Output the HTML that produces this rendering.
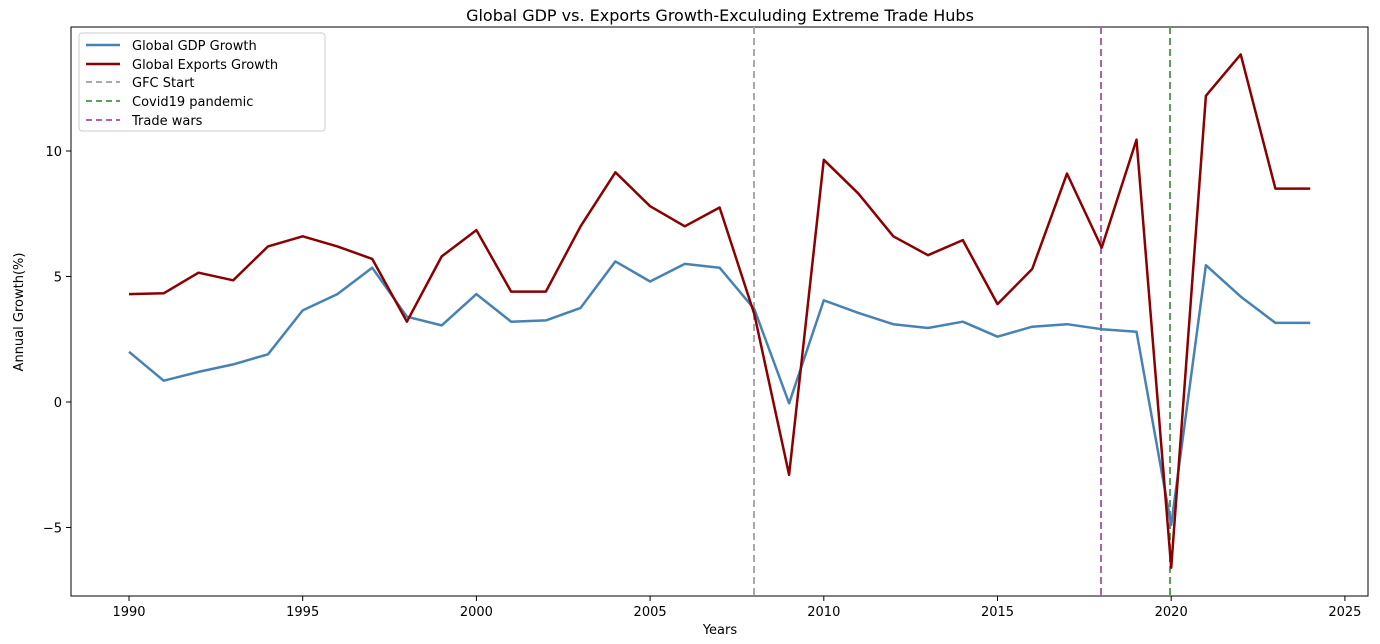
<!DOCTYPE html>
<html><head><meta charset="utf-8"><style>
html,body{margin:0;padding:0;background:#fff;}
svg{display:block;font-family:"DejaVu Sans","Liberation Sans",sans-serif;}
</style></head><body>
<svg id="c" width="1380" height="644" viewBox="0 0 1380 644" xmlns="http://www.w3.org/2000/svg">
<rect width="1380" height="644" fill="#fff"/>
<text x="720" y="21" font-size="16" text-anchor="middle" fill="#000">Global GDP vs. Exports Growth-Exculuding Extreme Trade Hubs</text>
<rect x="71" y="27" width="1297" height="569" fill="none" stroke="#000" stroke-width="1"/>
<g id="ticks" font-size="13" fill="#000"></g>
<text x="720" y="634" font-size="13" text-anchor="middle">Years</text>
<text transform="translate(23,312) rotate(-90)" font-size="13" text-anchor="middle">Annual Growth(%)</text>
<line x1="754" y1="27" x2="754" y2="596" stroke="#aaaaaa" stroke-width="2" stroke-dasharray="7,4"/>
<line x1="1101" y1="27" x2="1101" y2="596" stroke="#b060b0" stroke-width="2" stroke-dasharray="7,4"/>
<line x1="1170" y1="27" x2="1170" y2="596" stroke="#5aa05a" stroke-width="2" stroke-dasharray="7,4"/>
<path id="gdp" fill="none" stroke="#4682b4" stroke-width="2.5" stroke-linejoin="round"/>
<path id="exp" fill="none" stroke="#8b0000" stroke-width="2.5" stroke-linejoin="round"/>
<g font-size="13">
<rect x="79" y="33" width="246" height="98" fill="#fff" stroke="#ccc" rx="3"/>
<line x1="86" y1="45" x2="120" y2="45" stroke="#4682b4" stroke-width="2.5"/><text x="132" y="50">Global GDP Growth</text>
<line x1="86" y1="64" x2="120" y2="64" stroke="#8b0000" stroke-width="2.5"/><text x="132" y="69">Global Exports Growth</text>
<line x1="86" y1="82" x2="120" y2="82" stroke="#aaaaaa" stroke-width="2" stroke-dasharray="6,4"/><text x="132" y="87">GFC Start</text>
<line x1="86" y1="101" x2="120" y2="101" stroke="#5aa05a" stroke-width="2" stroke-dasharray="6,4"/><text x="132" y="106">Covid19 pandemic</text>
<line x1="86" y1="120" x2="120" y2="120" stroke="#b060b0" stroke-width="2" stroke-dasharray="6,4"/><text x="132" y="125">Trade wars</text>
</g>
</svg>
<script>
var X=function(y){return 129+(y-1990)*34.74;};
var Y=function(v){return 402-25.1*v;};
var g=[2.0,0.85,1.2,1.5,1.9,3.65,4.3,5.35,3.4,3.05,4.3,3.2,3.25,3.75,5.6,4.8,5.5,5.35,3.7,-0.05,4.05,3.55,3.1,2.95,3.2,2.6,3.0,3.1,2.9,2.8,-4.9,5.45,4.2,3.15,3.15];
var e=[4.3,4.33,5.15,4.85,6.2,6.6,6.2,5.7,3.2,5.8,6.85,4.4,4.4,7.0,9.15,7.8,7.0,7.75,3.5,-2.9,9.65,8.3,6.6,5.85,6.45,3.9,5.3,9.1,6.15,10.45,-6.6,12.2,13.85,8.5,8.5];
function p(a){return a.map(function(v,i){return (i?'L':'M')+X(1990+i).toFixed(1)+','+Y(v).toFixed(1);}).join('');}
document.getElementById('gdp').setAttribute('d',p(g));
document.getElementById('exp').setAttribute('d',p(e));
var t='';
for(var yr=1990;yr<=2025;yr+=5){var x=X(yr);t+='<line x1="'+x+'" y1="596" x2="'+x+'" y2="601" stroke="#000"/><text x="'+x+'" y="616" text-anchor="middle">'+yr+'</text>';}
[-5,0,5,10].forEach(function(v){var y=Y(v);t+='<line x1="66" y1="'+y+'" x2="71" y2="'+y+'" stroke="#000"/><text x="62" y="'+(y+5)+'" text-anchor="end">'+(v<0?'\u2212'+(-v):v)+'</text>';});
document.getElementById('ticks').innerHTML=t;
</script>
</body></html>
